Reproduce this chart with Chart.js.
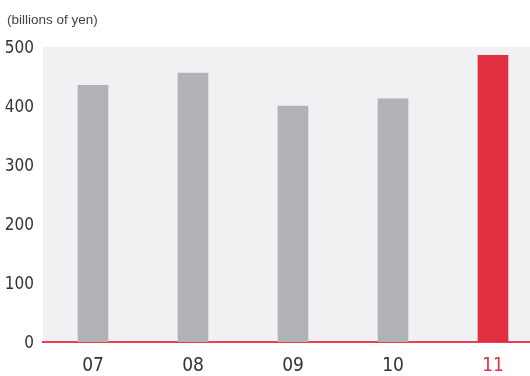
<!DOCTYPE html>
<html>
<head>
<meta charset="utf-8">
<script src="https://cdn.jsdelivr.net/npm/chart.js@4.4.1/dist/chart.umd.min.js"></script>
<style>
  html, body { margin: 0; padding: 0; overflow: hidden; background: #fff; }
  #wrap { position: relative; width: 543px; height: 376px; }
  #unit { position: absolute; left: 7px; top: 12px; font: 13.5px "Liberation Sans", Arial, sans-serif; color: #444; }
</style>
</head>
<body>
<div id="wrap">
  <div id="unit">(billions of yen)</div>
  <canvas id="salesChart" width="543" height="376"></canvas>
</div>
<script>
// Data
const years = ['07', '08', '09', '10', '11'];
const sales = [435, 456, 400, 412, 486];
const yTicks = [0, 100, 200, 300, 400, 500];

const grey = '#b1b2b5';
const red = '#e03040';
const tickFont = '"DejaVu Sans Condensed", "Liberation Sans Narrow", sans-serif';

// Plot background
const plotBackground = {
    id: 'plotBackground',
    beforeDraw(chart) {
        const { ctx, chartArea } = chart;
        ctx.save();
        ctx.fillStyle = '#f0f1f3';
        ctx.fillRect(chartArea.left, chartArea.top, chartArea.right - chartArea.left, chartArea.bottom - chartArea.top);
        ctx.restore();
    }
};

const ctx = document.getElementById('salesChart').getContext('2d');
new Chart(ctx, {
    type: 'bar',
    data: {
        labels: years,
        datasets: [{
            data: sales,
            backgroundColor: years.map((y, i) => i === years.length - 1 ? red : grey),
            barThickness: 30
        }]
    },
    options: {
        responsive: false,
        animation: false,
        layout: { padding: { top: 47, right: 0, left: 0, bottom: 0 } },
        plugins: {
            legend: { display: false },
            tooltip: { enabled: false }
        },
        scales: {
            x: {
                grid: { display: false, drawTicks: false },
                border: { display: true, color: '#e8404c', width: 2 },
                ticks: {
                    padding: 13,
                    font: { family: tickFont, size: 19 },
                    color: (c) => c.index === years.length - 1 ? red : '#333'
                },
                afterFit: (scale) => { scale.height = 34; }
            },
            y: {
                min: 0,
                max: 500,
                afterBuildTicks: (scale) => { scale.ticks = yTicks.map(v => ({ value: v })); },
                grid: { display: false, drawTicks: false },
                border: { display: false },
                ticks: {
                    padding: 9,
                    labelOffset: 2,
                    font: { family: tickFont, size: 17 },
                    color: '#333'
                },
                afterFit: (scale) => { scale.width = 43; }
            }
        }
    },
    plugins: [plotBackground]
});
</script>
</body>
</html>
